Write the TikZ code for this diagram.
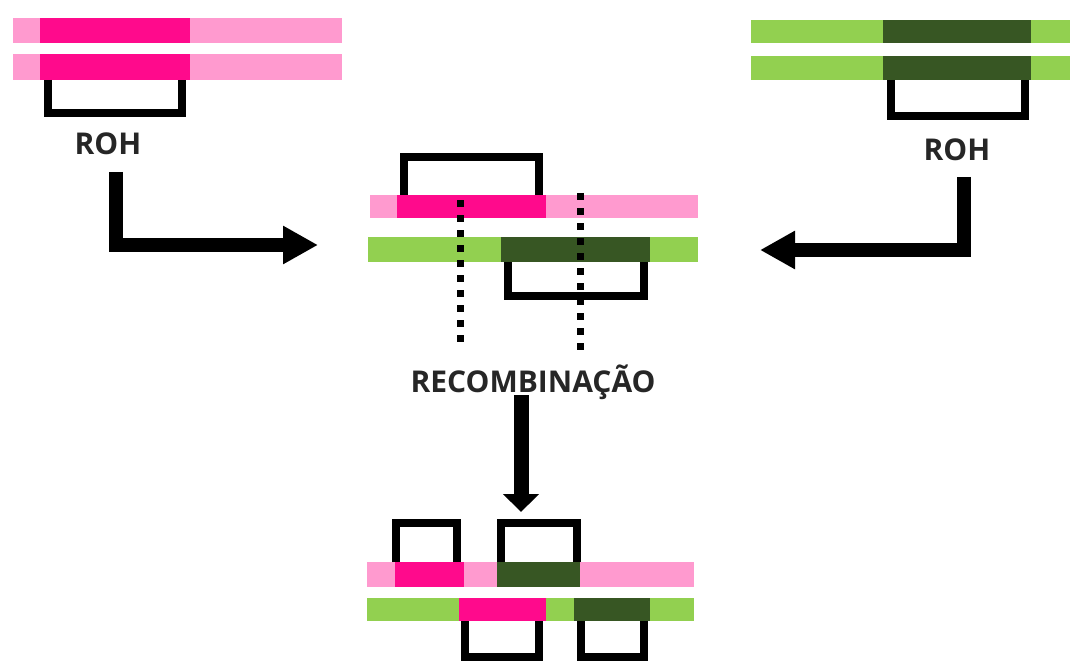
\documentclass[tikz,border=0pt]{standalone}
\usepackage{fontspec}
\setmainfont{Open Sans}
\usetikzlibrary{arrows.meta}
\definecolor{lpink}{HTML}{FF9ACF}
\definecolor{dpink}{HTML}{FF0A8C}
\definecolor{lgreen}{HTML}{92D050}
\definecolor{dgreen}{HTML}{375623}
\tikzset{
  brk/.style={draw=black, line width=8pt, line join=miter},
  bigarrow/.style={draw=black, line width=14pt, line join=miter, -{Triangle[length=35pt,width=36pt]}},
  downarrow/.style={draw=black, line width=15pt, -{Triangle[length=18pt,width=35pt]}},
  dotline/.style={draw=black, line width=7pt, dash pattern=on 7pt off 8pt},
  lbl/.style={font=\fontsize{30}{32}\selectfont\bfseries, text=black!85, inner sep=0pt},
}
\begin{document}
\begin{tikzpicture}[x=1pt,y=-1pt]
\useasboundingbox (0,0) rectangle (1070,663);
% ---------- top left ----------
\fill[lpink] (13,18) rectangle (342,43);
\fill[dpink] (40,18) rectangle (190,43);
\fill[lpink] (13,54) rectangle (342,80);
\fill[dpink] (40,54) rectangle (190,80);
\draw[brk] (47.5,80) -- (47.5,113) -- (182,113) -- (182,80);
\node[lbl] (roh1) at (108,144) {ROH};
\coordinate (a1s) at (116,172);
\coordinate (a1e) at (318,245);
\draw[bigarrow] (a1s) |- (a1e);
% ---------- top right ----------
\fill[lgreen] (751,20) rectangle (1070,43);
\fill[dgreen] (883,20) rectangle (1031,43);
\fill[lgreen] (751,56) rectangle (1070,80);
\fill[dgreen] (883,56) rectangle (1031,80);
\draw[brk] (891,80) -- (891,116) -- (1025,116) -- (1025,80);
\node[lbl] (roh2) at (957,150) {ROH};
\coordinate (a2s) at (964,177);
\coordinate (a2e) at (760,250);
\draw[bigarrow] (a2s) |- (a2e);
% ---------- middle ----------
\fill[lpink] (370,195) rectangle (698,218);
\fill[dpink] (397,195) rectangle (546,218);
\fill[lgreen] (368,237) rectangle (698,262);
\fill[dgreen] (501,237) rectangle (650,262);
\draw[brk] (404,195) -- (404,157) -- (539,157) -- (539,195);
\draw[brk] (508,262) -- (508,296) -- (644,296) -- (644,262);
\coordinate (d1s) at (460,200);
\coordinate (d1e) at (460,346);
\coordinate (d2s) at (580,193);
\coordinate (d2e) at (580,355);
\draw[dotline] (d1s) -- (d1e);
\draw[dotline] (d2s) -- (d2e);
\node[lbl] (rec) at (533,382) {RECOMBINAÇÃO};
\coordinate (a3s) at (521,395);
\coordinate (a3e) at (521,512);
\draw[downarrow] (a3s) -- (a3e);
% ---------- bottom ----------
\fill[lpink] (367,562) rectangle (694,587);
\fill[dpink] (395,562) rectangle (464,587);
\fill[dgreen] (497,562) rectangle (580,587);
\fill[lgreen] (367,598) rectangle (694,621);
\fill[dpink] (459,598) rectangle (546,621);
\fill[dgreen] (574,598) rectangle (650,621);
\draw[brk] (396,562) -- (396,523) -- (457,523) -- (457,562);
\draw[brk] (501,562) -- (501,523) -- (577,523) -- (577,562);
\draw[brk] (465,621) -- (465,657) -- (539,657) -- (539,621);
\draw[brk] (581,621) -- (581,657) -- (644,657) -- (644,621);
\end{tikzpicture}
\end{document}
